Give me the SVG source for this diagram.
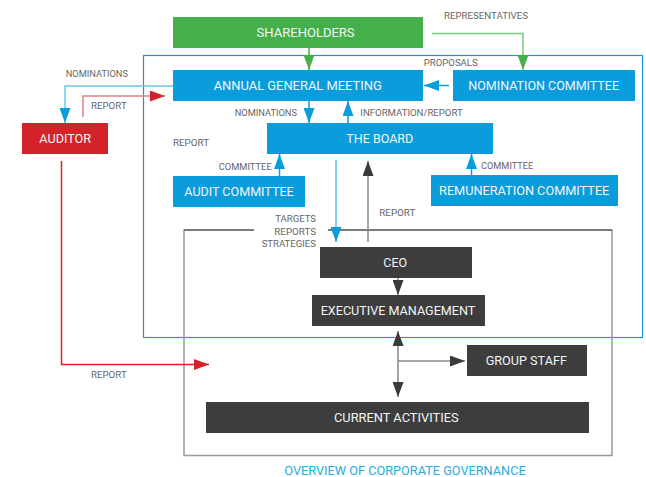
<svg xmlns="http://www.w3.org/2000/svg" width="646" height="477" viewBox="0 0 646 477">
<style>
.nt{font-family:Roboto,"Liberation Sans",sans-serif;font-size:12.5px;fill:#f2f6f8;text-anchor:middle}
.lb{font-family:Roboto,"Liberation Sans",sans-serif;font-size:9.5px;fill:#666}
.blue{fill:#0a9cdb}
.dark{fill:#3d3d3d}
.ln{fill:none;stroke-width:1.5}
</style>
<defs>
<marker id="ab" markerUnits="userSpaceOnUse" markerWidth="15" markerHeight="11" refX="15" refY="5.5" orient="auto-start-reverse"><path d="M0,0 L15,5.5 L0,11 Z" fill="#0a9cdb"/></marker>
<marker id="ag" markerUnits="userSpaceOnUse" markerWidth="15" markerHeight="11" refX="15" refY="5.5" orient="auto-start-reverse"><path d="M0,0 L15,5.5 L0,11 Z" fill="#43b04a"/></marker>
<marker id="ar" markerUnits="userSpaceOnUse" markerWidth="15" markerHeight="11" refX="15" refY="5.5" orient="auto-start-reverse"><path d="M0,0 L15,5.5 L0,11 Z" fill="#d2232a"/></marker>
<marker id="ad" markerUnits="userSpaceOnUse" markerWidth="15" markerHeight="11" refX="15" refY="5.5" orient="auto-start-reverse"><path d="M0,0 L15,5.5 L0,11 Z" fill="#3a3a3a"/></marker>
</defs>

<g id="frames">
<rect x="143.5" y="55.5" width="499" height="282" fill="none" stroke="#1b96d3" stroke-width="1.2"/>
<path d="M254,230 L184,230 L184,455.5 L612,455.5 L612,230 L328,230" fill="none" stroke="#999" stroke-width="1.5"/>
<path d="M254,230 L184,230 M328,230 L612,230" fill="none" stroke="#444" stroke-width="1"/>
</g>

<g id="connectors">
<path class="ln" d="M309,47 L309,70" stroke="#43b04a" marker-end="url(#ag)"/>
<path class="ln" d="M432,33.5 L523,33.5 L523,70" stroke="#7cc97f" marker-end="url(#ag)"/>
<path class="ln" d="M449,85.5 L424,85.5" stroke="#0a9cdb" marker-end="url(#ab)"/>
<path class="ln" d="M173,86 L65,86 L65,123" stroke="#6cc4ee" marker-end="url(#ab)"/>
<path class="ln" d="M83,117 L83,96 L165,96" stroke="#e38088" marker-end="url(#ar)"/>
<path class="ln" d="M309,101 L309,123" stroke="#0a9cdb" marker-end="url(#ab)"/>
<path class="ln" d="M348,123 L348,101" stroke="#0a9cdb" marker-end="url(#ab)"/>
<path class="ln" d="M279.5,176 L279.5,154" stroke="#0a9cdb" marker-end="url(#ab)"/>
<path class="ln" d="M471.5,175 L471.5,154" stroke="#0a9cdb" marker-end="url(#ab)"/>
<path class="ln" d="M336,160 L336,242" stroke="#5bbcea" marker-end="url(#ab)"/>
<path class="ln" d="M368,242 L368,161" stroke="#888" marker-end="url(#ad)"/>
<path class="ln" d="M398,278 L398,295" stroke="#888" marker-end="url(#ad)"/>
<path class="ln" d="M398,331 L398,397" stroke="#888" marker-start="url(#ad)" marker-end="url(#ad)"/>
<path class="ln" d="M398,361 L465,361" stroke="#888" marker-end="url(#ad)"/>
<path class="ln" d="M61.5,161 L61.5,364.5 L209,364.5" stroke="#d2232a" marker-end="url(#ar)"/>
</g>

<g id="labels">
<text class="lb" x="444" y="19.2" textLength="84" lengthAdjust="spacingAndGlyphs">REPRESENTATIVES</text>
<text class="lb" x="423.7" y="65.8" textLength="54" lengthAdjust="spacingAndGlyphs">PROPOSALS</text>
<text class="lb" x="65.7" y="76.8" textLength="62.3" lengthAdjust="spacingAndGlyphs">NOMINATIONS</text>
<text class="lb" x="91" y="109.2" textLength="35.7" lengthAdjust="spacingAndGlyphs">REPORT</text>
<text class="lb" x="234.7" y="116.2" textLength="62.3" lengthAdjust="spacingAndGlyphs">NOMINATIONS</text>
<text class="lb" x="360.3" y="116.2" textLength="102.4" lengthAdjust="spacingAndGlyphs">INFORMATION/REPORT</text>
<text class="lb" x="173" y="145.8" textLength="36" lengthAdjust="spacingAndGlyphs">REPORT</text>
<text class="lb" x="218.7" y="170.2" textLength="53" lengthAdjust="spacingAndGlyphs">COMMITTEE</text>
<text class="lb" x="481" y="168.8" textLength="52.3" lengthAdjust="spacingAndGlyphs">COMMITTEE</text>
<text class="lb" x="275.3" y="222.2" textLength="40.7" lengthAdjust="spacingAndGlyphs">TARGETS</text>
<text class="lb" x="274.3" y="234.8" textLength="41.7" lengthAdjust="spacingAndGlyphs">REPORTS</text>
<text class="lb" x="261.7" y="247.2" textLength="54.3" lengthAdjust="spacingAndGlyphs">STRATEGIES</text>
<text class="lb" x="379.3" y="215.8" textLength="36" lengthAdjust="spacingAndGlyphs">REPORT</text>
<text class="lb" x="91" y="377.8" textLength="35.7" lengthAdjust="spacingAndGlyphs">REPORT</text>
<text x="284.3" y="474.5" textLength="241.4" lengthAdjust="spacingAndGlyphs" style="font-family:Roboto,'Liberation Sans',sans-serif;font-size:12px;fill:#29abe2">OVERVIEW OF CORPORATE GOVERNANCE</text>
</g>

<g id="shareholders"><rect x="173" y="17" width="250" height="31" fill="#43b04a"/><text class="nt" x="305.6" y="37" textLength="98" lengthAdjust="spacingAndGlyphs">SHAREHOLDERS</text></g>
<g id="agm"><rect class="blue" x="173" y="70" width="250" height="31"/><text class="nt" x="297.7" y="90.3" textLength="168" lengthAdjust="spacingAndGlyphs">ANNUAL GENERAL MEETING</text></g>
<g id="nomination-committee"><rect class="blue" x="453" y="70" width="182" height="31"/><text class="nt" x="543.7" y="90.3" textLength="150.7" lengthAdjust="spacingAndGlyphs">NOMINATION COMMITTEE</text></g>
<g id="auditor"><rect x="22" y="123" width="86" height="31" fill="#d2232a"/><text class="nt" x="65.2" y="143.3" textLength="51.7" lengthAdjust="spacingAndGlyphs">AUDITOR</text></g>
<g id="board"><rect class="blue" x="267" y="123" width="226" height="31"/><text class="nt" x="379.8" y="143.3" textLength="67" lengthAdjust="spacingAndGlyphs">THE BOARD</text></g>
<g id="audit-committee"><rect class="blue" x="173" y="176" width="132" height="31"/><text class="nt" x="239" y="196.3" textLength="109.4" lengthAdjust="spacingAndGlyphs">AUDIT COMMITTEE</text></g>
<g id="remuneration-committee"><rect class="blue" x="431" y="175" width="187" height="31"/><text class="nt" x="524.2" y="195.3" textLength="170.3" lengthAdjust="spacingAndGlyphs">REMUNERATION COMMITTEE</text></g>
<g id="ceo"><rect class="dark" x="320" y="247" width="152" height="31"/><text class="nt" x="395.2" y="267.3" textLength="23.7" lengthAdjust="spacingAndGlyphs">CEO</text></g>
<g id="executive-management"><rect class="dark" x="312" y="295" width="173" height="31"/><text class="nt" x="398" y="315.3" textLength="154.6" lengthAdjust="spacingAndGlyphs">EXECUTIVE MANAGEMENT</text></g>
<g id="group-staff"><rect class="dark" x="467" y="345" width="120" height="31"/><text class="nt" x="526.3" y="365.3" textLength="81.3" lengthAdjust="spacingAndGlyphs">GROUP STAFF</text></g>
<g id="current-activities"><rect class="dark" x="206" y="402" width="383" height="31"/><text class="nt" x="396.3" y="422.3" textLength="124.7" lengthAdjust="spacingAndGlyphs">CURRENT ACTIVITIES</text></g>
</svg>
